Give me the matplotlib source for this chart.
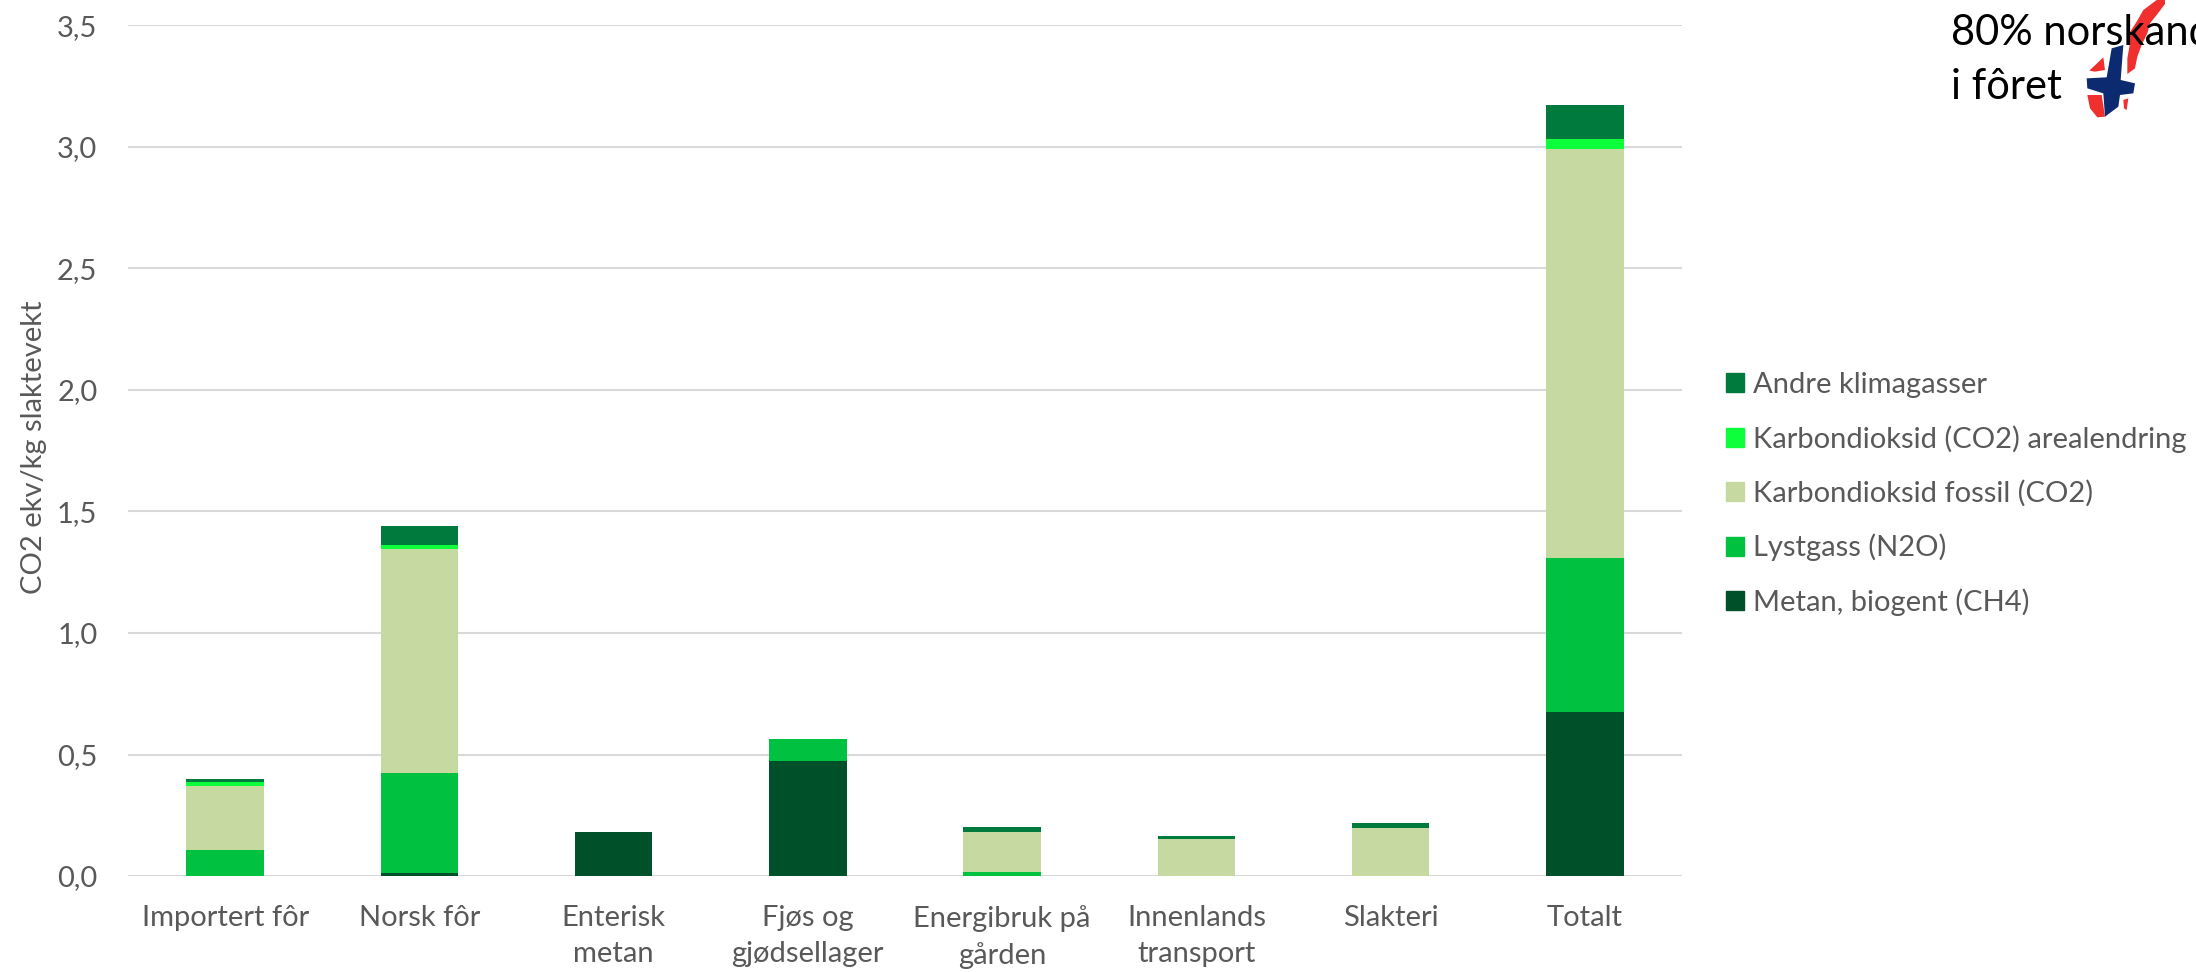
import matplotlib
matplotlib.use("Agg")
import matplotlib.pyplot as plt
from matplotlib.patches import Polygon, Patch
import numpy as np

plt.rcParams['font.family'] = ['Lato', 'DejaVu Sans']

W, H = 2196, 972

categories = ["Importert fôr", "Norsk fôr", "Enterisk\nmetan", "Fjøs og\ngjødsellager",
              "Energibruk på\ngården", "Innenlands\ntransport", "Slakteri", "Totalt"]

# stacked from the bottom up
metan = [0.0, 0.014, 0.182, 0.474, 0.0, 0.0, 0.0, 0.676]
lystgass = [0.107, 0.408, 0.0, 0.088, 0.018, 0.0, 0.0, 0.631]
fossil = [0.262, 0.923, 0.0, 0.0, 0.163, 0.152, 0.196, 1.684]
areal = [0.017, 0.019, 0.0, 0.0, 0.002, 0.001, 0.001, 0.040]
andre = [0.014, 0.078, 0.0, 0.0, 0.017, 0.010, 0.020, 0.142]

series = [("Metan, biogent (CH4)", metan, "#00502a"),
          ("Lystgass (N2O)", lystgass, "#00c140"),
          ("Karbondioksid fossil (CO2)", fossil, "#c5d9a0"),
          ("Karbondioksid (CO2) arealendring", areal, "#0cff3a"),
          ("Andre klimagasser", andre, "#007a3d")]

yticks = [0, 0.5, 1.0, 1.5, 2.0, 2.5, 3.0, 3.5]

fig = plt.figure(figsize=(W / 100, H / 100), dpi=100)
ax = fig.add_axes([128 / W, 1 - 876 / H, (1682 - 128) / W, (876 - 25.5) / H])

x = np.arange(len(categories))
bottom = np.zeros(len(categories))
for name, vals, col in series:
    ax.bar(x, vals, width=0.4, bottom=bottom, color=col, zorder=3)
    bottom += np.array(vals)

ax.set_xlim(-0.5, 7.5)
ax.set_ylim(0, 3.5)
ax.set_xticks(x)
ax.set_xticklabels(categories, fontsize=21, color="#595959", linespacing=1.46)
ax.set_yticks(yticks)
ax.set_yticklabels([("%.1f" % t).replace(".", ",") for t in yticks], fontsize=21, color="#595959")
ax.tick_params(axis='both', length=0)
ax.tick_params(axis='x', pad=21)
ax.tick_params(axis='y', pad=22)
ax.grid(axis='y', color="#d9d9d9", linewidth=1.5, zorder=0)
ax.set_axisbelow(True)
for s in ax.spines.values():
    s.set_visible(False)
ax.set_ylabel("CO2 ekv/kg slaktevekt", fontsize=21, color="#595959", va='center')
ax.yaxis.set_label_coords(-0.0605, 0.504)

handles = [Patch(color=col, label=name) for name, vals, col in series[::-1]]
fig.legend(handles=handles, loc='center left', bbox_to_anchor=(1726 / W, 1 - 494 / H),
           frameon=False, fontsize=21, labelcolor="#595959", handlelength=0.62,
           handleheight=0.62, handletextpad=0.3, labelspacing=0.93,
           borderpad=0, borderaxespad=0)


def flag_shape(points, col):
    pts = [((1860 + a / 3) / W, 1 - (b / 3) / H) for a, b in points]
    fig.add_artist(Polygon(pts, closed=True, transform=fig.transFigure, facecolor=col,
                           edgecolor='none', zorder=5))


red = "#f0302f"
flag_shape([(870, 15), (890, 0), (915, 0), (915, 12), (890, 45), (870, 70), (862, 100), (845, 135),
            (832, 170), (825, 205), (802, 222), (802, 175), (810, 130), (800, 112), (830, 65),
            (850, 30)], red)
flag_shape([(688, 212), (730, 172), (735, 210), (705, 215)], red)
flag_shape([(682, 285), (725, 285), (735, 350), (712, 352), (690, 325)], red)
flag_shape([(790, 300), (805, 295), (800, 330), (792, 325)], red)
flag_shape([(755, 145), (790, 135), (782, 240), (825, 250), (820, 280), (780, 285), (775, 320),
            (735, 350), (730, 280), (682, 265), (680, 235), (740, 232)], "#0b2a6f")

fig.text(1951 / W, 1 - 45 / H, "80% norskandel", fontsize=30, color="black", zorder=6, va='baseline')
fig.text(1951 / W, 1 - 99 / H, "i fôret", fontsize=30, color="black", zorder=6, va='baseline')

fig.savefig("out.png", dpi=100)
